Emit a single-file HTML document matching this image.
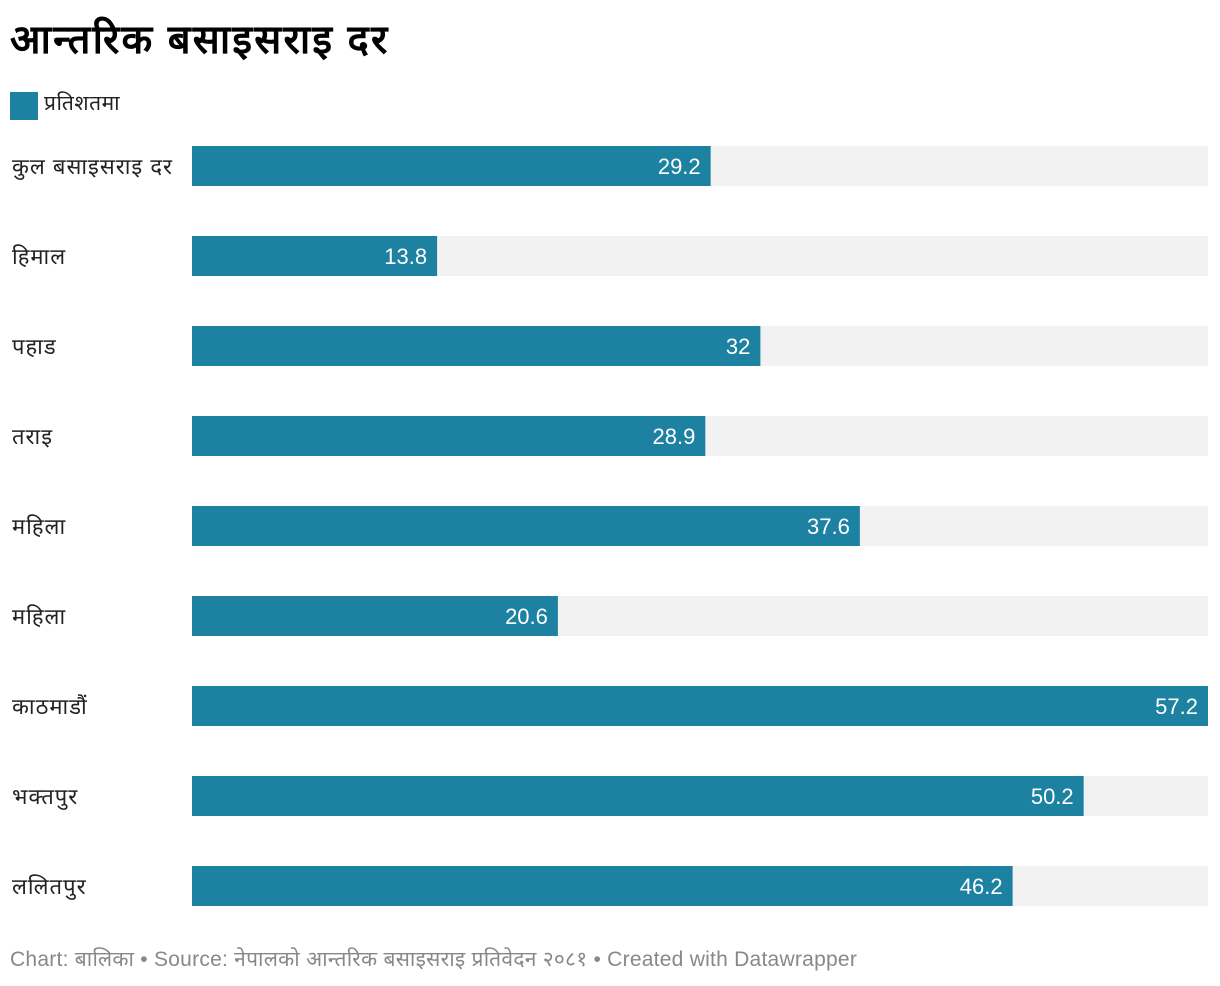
<!DOCTYPE html>
<html><head><meta charset="utf-8">
<style>
body{margin:0;width:1220px;height:986px;background:#fff;font-family:"Liberation Sans","Noto Sans CJK SC",sans-serif;position:relative;overflow:hidden}
.t{position:absolute;left:10px;top:10px;font-size:40px;font-weight:bold;color:#000;letter-spacing:2.2px}
.lg{position:absolute;left:10px;top:92px;width:28px;height:28px;background:#1d81a2}
.lgt{position:absolute;left:44px;top:89px;font-size:21px;color:#222;letter-spacing:0.5px}
.foot{position:absolute;left:10px;top:945px;font-size:21px;color:#888;letter-spacing:0.25px}
</style></head><body>
<div class="t">आन्तरिक बसाइसराइ दर</div>
<div class="lg"></div>
<div class="lgt">प्रतिशतमा</div>
<svg id="c" width="1220" height="986" style="position:absolute;left:0;top:0"></svg>
<div class="foot">Chart: बालिका • Source: नेपालको आन्तरिक बसाइसराइ प्रतिवेदन २०८१ • Created with Datawrapper</div>
<script>
const categories=["कुल बसाइसराइ दर","हिमाल","पहाड","तराइ","महिला","महिला","काठमाडौं","भक्तपुर","ललितपुर"];
const values=[29.2,13.8,32,28.9,37.6,20.6,57.2,50.2,46.2];
const labels=["29.2","13.8","32","28.9","37.6","20.6","57.2","50.2","46.2"];
const maxV=57.2;
const svg=document.getElementById('c');
const NS="http://www.w3.org/2000/svg";
const x0=192,w=1016;
function xs(v){return v/maxV*w;}
function ys(i){return 146+i*90;}
categories.forEach((c,i)=>{
  const y=ys(i);
  const bg=document.createElementNS(NS,'rect');
  bg.setAttribute('x',x0);bg.setAttribute('y',y);bg.setAttribute('width',w);bg.setAttribute('height',40);bg.setAttribute('fill','#f2f2f2');
  
  
  svg.appendChild(bg);
  const r=document.createElementNS(NS,'rect');
  r.setAttribute('x',x0);r.setAttribute('y',y);r.setAttribute('width',xs(values[i]));r.setAttribute('height',40);r.setAttribute('fill','#1d81a2');
  
  
  svg.appendChild(r);
  const v=document.createElementNS(NS,'text');
  v.setAttribute('x',x0+xs(values[i])-10);v.setAttribute('y',y+28);v.setAttribute('text-anchor','end');v.setAttribute('fill','#fff');v.setAttribute('font-size','22');
  v.setAttribute('font-family','"Liberation Sans",sans-serif');
  v.textContent=labels[i];
  
  
  svg.appendChild(v);
  const l=document.createElementNS(NS,'text');
  l.setAttribute('x',12);l.setAttribute('y',y+28);l.setAttribute('fill','#222');l.setAttribute('font-size','22');l.setAttribute('letter-spacing','1');
  l.setAttribute('font-family','"Liberation Sans","Noto Sans CJK SC",sans-serif');
  l.textContent=c;
  
  
  svg.appendChild(l);
});
</script>
</body></html>
